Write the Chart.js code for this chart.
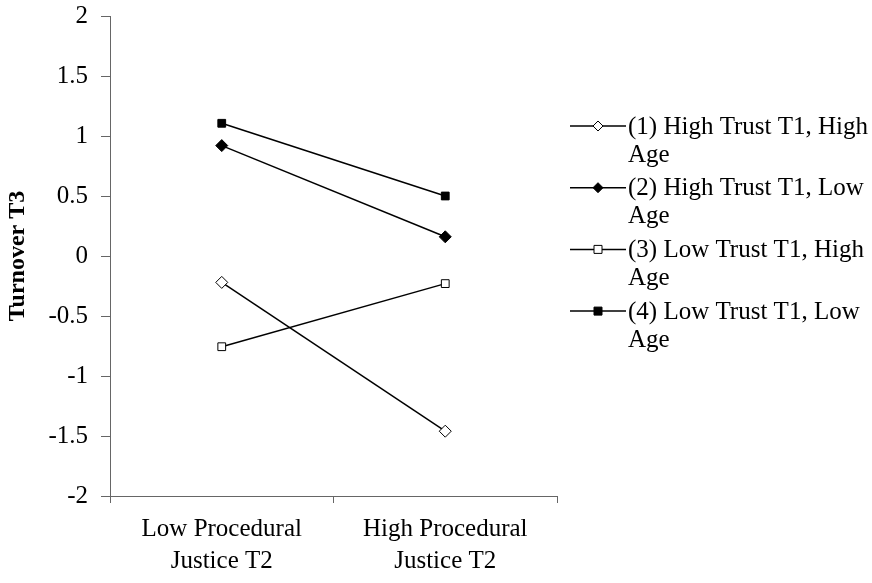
<!DOCTYPE html>
<html>
<head>
<meta charset="utf-8">
<script src="https://cdn.jsdelivr.net/npm/chart.js@4.4.1/dist/chart.umd.min.js"></script>
<style>
	html, body { margin: 0; padding: 0; background: #fff; }
	#wrap { position: relative; width: 872px; height: 583px; }
</style>
</head>
<body>
<div id="wrap"><canvas id="chart" width="872" height="583"></canvas></div>
<script>
const FONT = "'Liberation Serif', 'Times New Roman', serif";
const CATEGORIES = [["Low Procedural", "Justice T2"], ["High Procedural", "Justice T2"]];
const Y_TICKS = [2, 1.5, 1, 0.5, 0, -0.5, -1, -1.5, -2];
const SERIES_NAMES = [
	["(1) High Trust T1, High", "Age"],
	["(2) High Trust T1, Low", "Age"],
	["(3) Low Trust T1, High", "Age"],
	["(4) Low Trust T1, Low", "Age"],
];
const HIGH_TRUST_HIGH_AGE = [-0.22, -1.46];
const HIGH_TRUST_LOW_AGE = [0.92, 0.16];
const LOW_TRUST_HIGH_AGE = [-0.756, -0.23];
const LOW_TRUST_LOW_AGE = [1.106, 0.5];
const MARKERS = ["rectRot", "rectRot", "rect", "rect"];
const FILLS = ["#fff", "#000", "#fff", "#000"];
const AXIS_COLOR = "#666";

const SERIES_VALUES = [HIGH_TRUST_HIGH_AGE, HIGH_TRUST_LOW_AGE, LOW_TRUST_HIGH_AGE, LOW_TRUST_LOW_AGE];

// legend drawn by hand so labels can wrap like the original
const sideLegend = {
	id: "sideLegend",
	afterDraw(chart) {
		const ctx = chart.ctx;
		ctx.save();
		ctx.font = "25px " + FONT;
		ctx.fillStyle = "#000";
		ctx.textBaseline = "middle";
		var y = 126;
		chart.data.datasets.forEach((ds, i) => {
			ctx.strokeStyle = "#000";
			ctx.lineWidth = 1.5;
			ctx.beginPath();
			ctx.moveTo(570, y);
			ctx.lineTo(626, y);
			ctx.stroke();
			ctx.fillStyle = ds.pointBackgroundColor;
			ctx.lineWidth = 1;
			ctx.beginPath();
			if (ds.pointStyle === "rectRot") {
				ctx.moveTo(598, y - 5);
				ctx.lineTo(603, y);
				ctx.lineTo(598, y + 5);
				ctx.lineTo(593, y);
				ctx.closePath();
			} else {
				ctx.rect(594, y - 4, 8, 8);
			}
			ctx.fill();
			ctx.stroke();
			ctx.fillStyle = "#000";
			ds.label.forEach((line, k) => {
				ctx.fillText(line, 628, y + 1 + k * 28);
			});
			y += 61.7;
		});
		ctx.restore();
	},
};

new Chart(document.getElementById("chart"), {
	type: "line",
	data: {
		labels: CATEGORIES,
		datasets: SERIES_VALUES.map((vals, i) => ({
			label: SERIES_NAMES[i],
			data: vals,
			borderColor: "#000",
			borderWidth: 1.5,
			pointStyle: MARKERS[i],
			pointRadius: MARKERS[i] === "rect" ? 5.5 : 6,
			pointBackgroundColor: FILLS[i],
			pointBorderColor: "#000",
			pointBorderWidth: 1,
			tension: 0,
		})),
	},
	plugins: [sideLegend],
	options: {
		responsive: false,
		animation: false,
		layout: { padding: { top: 16, right: 315, bottom: 0, left: 0 } },
		plugins: {
			legend: { display: false },
			tooltip: { enabled: false },
		},
		scales: {
			x: {
				offset: true,
				grid: { offset: true, drawOnChartArea: false, drawTicks: true, tickLength: 7, color: AXIS_COLOR },
				border: { color: AXIS_COLOR, width: 1 },
				ticks: {
					color: "#000",
					font: { family: FONT, size: 25, lineHeight: 1.28 },
					padding: 10,
					maxRotation: 0,
					autoSkip: false,
				},
				afterFit: (scale) => { scale.height = 87; },
			},
			y: {
				min: -2,
				max: 2,
				afterBuildTicks: (scale) => {
					scale.ticks = Y_TICKS.map((v) => ({ value: v }));
				},
				grid: { drawOnChartArea: false, drawTicks: true, tickLength: 9, color: AXIS_COLOR },
				border: { color: AXIS_COLOR, width: 1 },
				ticks: {
					color: "#000",
					font: { family: FONT, size: 25 },
					padding: 13,
					callback: (v) => String(v),
				},
				title: {
					display: true,
					text: "Turnover T3",
					color: "#000",
					font: { family: FONT, size: 24, weight: "bold" },
					padding: { top: 3, bottom: 0 },
				},
				afterFit: (scale) => {
					scale.width = 110;
					scale.paddingTop = 0;
					scale.paddingBottom = 0;
				},
			},
		},
	},
});
</script>
</body>
</html>
